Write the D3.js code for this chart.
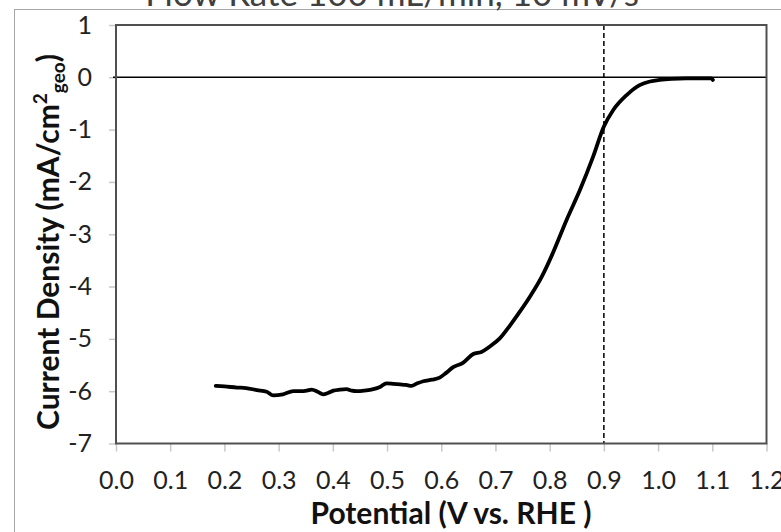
<!DOCTYPE html>
<html>
<head>
<meta charset="utf-8">
<script src="https://cdn.jsdelivr.net/npm/d3@7"></script>
<style>
  html, body { margin: 0; padding: 0; background: #fff; }
  svg { display: block; }
  text { font-family: Lato, "Open Sans", sans-serif; }
</style>
</head>
<body>
<svg id="chart" width="781" height="532"></svg>
<script>
// ---- data ----
const potential = [0.184, 0.200, 0.223, 0.240, 0.260, 0.278, 0.290, 0.308, 0.327, 0.340,
  0.352, 0.361, 0.372, 0.382, 0.392, 0.401, 0.413, 0.425, 0.435, 0.444,
  0.458, 0.471, 0.487, 0.499, 0.512, 0.524, 0.535, 0.545, 0.556, 0.567,
  0.583, 0.597, 0.609, 0.622, 0.640, 0.659, 0.674, 0.689, 0.708, 0.727,
  0.745, 0.765, 0.785, 0.805, 0.831, 0.856, 0.880, 0.900, 0.917, 0.942,
  0.966, 0.985, 1.003, 1.025, 1.052, 1.080, 1.098, 1.101];
const currentDensity = [-5.90, -5.91, -5.93, -5.94, -5.98, -6.01, -6.08, -6.06, -6.00, -6.00,
  -5.99, -5.97, -6.01, -6.06, -6.03, -5.99, -5.97, -5.96, -5.99, -6.00,
  -5.99, -5.97, -5.92, -5.85, -5.86, -5.87, -5.88, -5.90, -5.85, -5.81,
  -5.78, -5.74, -5.65, -5.54, -5.46, -5.29, -5.25, -5.15, -4.99, -4.74,
  -4.48, -4.17, -3.82, -3.38, -2.73, -2.15, -1.52, -0.94, -0.63, -0.34,
  -0.15, -0.08, -0.05, -0.03, -0.02, -0.02, -0.02, -0.05];
const xTicks = [0.0, 0.1, 0.2, 0.3, 0.4, 0.5, 0.6, 0.7, 0.8, 0.9, 1.0, 1.1, 1.2];
const yTicks = [1, 0, -1, -2, -3, -4, -5, -6, -7];
const xDomain = [0, 1.2];
const yDomain = [-7, 1];
const markerPotential = 0.9;
const titleText = "Flow Rate 100 mL/min, 10 mV/s";
const xTitle = "Potential (V vs. RHE )";

// ---- layout ----
const svg = d3.select("#chart");
const plot = { left: 116, right: 766.5, top: 25, bottom: 443.5 };

const x = d3.scaleLinear().domain(xDomain).range([plot.left, plot.right]);
const y = d3.scaleLinear().domain(yDomain).range([plot.bottom, plot.top]);

// outer chart frame
svg.append("rect")
  .attr("x", 14.5).attr("y", 9.5).attr("width", 780).attr("height", 540)
  .attr("fill", "#fff").attr("stroke", "#a6a6a6").attr("stroke-width", 1);

// title (mostly cropped at the top)
svg.append("text")
  .attr("x", 392).attr("y", 6)
  .attr("text-anchor", "middle")
  .attr("font-size", 35)
  .attr("fill", "#404040")
  .text(titleText);

// axes
const yAxis = d3.axisLeft(y).tickValues(yTicks).tickSize(7).tickPadding(17)
  .tickFormat(d => String(d));
const gy = svg.append("g").attr("transform", `translate(${plot.left},0)`).call(yAxis);
gy.select(".domain").remove();
gy.selectAll(".tick line").attr("stroke", "#c8c8c8").attr("stroke-width", 1.5);
gy.selectAll(".tick text").attr("font-size", 25).attr("fill", "#222")
  .attr("font-family", "Lato, 'Open Sans', sans-serif");

const xAxis = d3.axisBottom(x).tickValues(xTicks).tickSize(8).tickPadding(20)
  .tickFormat(d3.format(".1f"));
const gx = svg.append("g").attr("transform", `translate(0,${plot.bottom})`).call(xAxis);
gx.select(".domain").remove();
gx.selectAll(".tick line").attr("stroke", "#c8c8c8").attr("stroke-width", 1.5);
gx.selectAll(".tick text").attr("font-size", 25).attr("fill", "#222")
  .attr("font-family", "Lato, 'Open Sans', sans-serif");

// zero line
svg.append("line")
  .attr("x1", plot.left - 3).attr("x2", plot.right)
  .attr("y1", y(0)).attr("y2", y(0))
  .attr("stroke", "#000").attr("stroke-width", 1.5);

// dashed marker line at 0.9 V
svg.append("line")
  .attr("x1", x(markerPotential)).attr("x2", x(markerPotential))
  .attr("y1", plot.top).attr("y2", plot.bottom)
  .attr("stroke", "#000").attr("stroke-width", 1.5)
  .attr("stroke-dasharray", "5,3");

// plot area border
svg.append("rect")
  .attr("x", plot.left).attr("y", plot.top)
  .attr("width", plot.right - plot.left).attr("height", plot.bottom - plot.top)
  .attr("fill", "none").attr("stroke", "#505050").attr("stroke-width", 2);

// data line
const pts = potential.map((v, i) => [v, currentDensity[i]]);
const line = d3.line().x(d => x(d[0])).y(d => y(d[1])).curve(d3.curveMonotoneX);
svg.append("path")
  .datum(pts)
  .attr("d", line)
  .attr("fill", "none")
  .attr("stroke", "#000")
  .attr("stroke-width", 3.8)
  .attr("stroke-linejoin", "round")
  .attr("stroke-linecap", "round");

// x axis title
svg.append("text")
  .attr("x", 451).attr("y", 524)
  .attr("text-anchor", "middle")
  .attr("font-size", 30).attr("font-weight", "bold")
  .attr("fill", "#111")
  .text(xTitle);

// y axis title with super/subscripts
const yt = svg.append("text")
  .attr("transform", `translate(59,242) rotate(-90)`)
  .attr("text-anchor", "middle")
  .attr("font-size", 30).attr("font-weight", "bold")
  .attr("fill", "#111");
yt.append("tspan").text("Current Density (mA/cm");
yt.append("tspan").attr("font-size", 19).attr("dy", -12).text("2");
yt.append("tspan").attr("font-size", 19).attr("dy", 18).text("geo");
yt.append("tspan").attr("dy", -6).text(")");
</script>
</body>
</html>
